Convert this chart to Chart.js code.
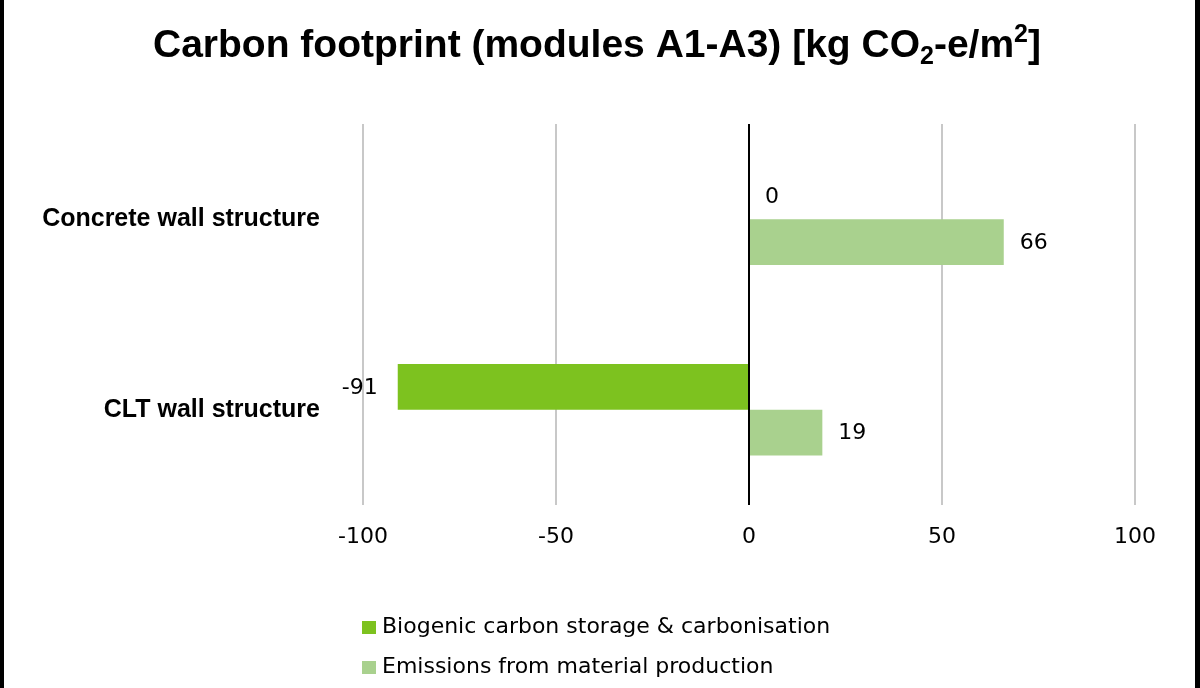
<!DOCTYPE html>
<html>
<head>
<meta charset="utf-8">
<script src="https://cdn.jsdelivr.net/npm/chart.js@4"></script>
<style>
  html, body { margin: 0; padding: 0; background: #fff; }
  #wrap { position: relative; width: 1200px; height: 688px; }
  .band { position: absolute; top: 0; width: 5px; height: 688px; background: #000; }
</style>
</head>
<body>
<div id="wrap">
  <canvas id="myChart" width="1200" height="688"></canvas>
  <div class="band" style="left:0;width:4px"></div>
  <div class="band" style="right:0"></div>
</div>
<script>
  // categories / series
  const categories = ['Concrete wall structure', 'CLT wall structure'];
  const seriesNames = ['Biogenic carbon storage & carbonisation', 'Emissions from material production'];
  const biogenic = [0, -91];
  const emissions = [66, 19];
  const xTicks = [-100, -50, 0, 50, 100];

  const colors = ['#7dc21f', '#a9d18e'];
  const FONT = '"Liberation Sans", Arial, Helvetica, sans-serif';
  const FONT_R = '"DejaVu Sans", "Liberation Sans", sans-serif';
  Chart.defaults.font.family = FONT;
  Chart.defaults.color = '#000';

  // タイトル (下付き・上付き文字あり)
  const titlePlugin = {
    id: 'titleSubSup',
    afterDraw(chart) {
      const ctx = chart.ctx;
      const parts = [
        { t: 'Carbon footprint (modules A1-A3) [kg CO', s: 0 },
        { t: '2', s: 1 },
        { t: '-e/m', s: 0 },
        { t: '2', s: -1 },
        { t: ']', s: 0 }
      ];
      const big = 'bold 39px ' + FONT;
      const small = 'bold 25px ' + FONT;
      ctx.save();
      let total = 0;
      parts.forEach(p => {
        ctx.font = p.s ? small : big;
        p.w = ctx.measureText(p.t).width;
        total += p.w;
      });
      let x = chart.width / 2 - total / 2 - 3;
      const y = 46;
      ctx.textBaseline = 'middle';
      ctx.textAlign = 'left';
      ctx.fillStyle = '#000';
      parts.forEach(p => {
        ctx.font = p.s ? small : big;
        const dy = p.s === 1 ? 11 : (p.s === -1 ? -11 : 0);
        ctx.fillText(p.t, x, y + dy);
        x += p.w;
      });
      ctx.restore();
    }
  };

  // データラベル
  const labelPlugin = {
    id: 'barValues',
    afterDatasetsDraw(chart) {
      const ctx = chart.ctx;
      ctx.save();
      ctx.font = '22px ' + FONT_R;
      ctx.fillStyle = '#000';
      ctx.textBaseline = 'middle';
      chart.data.datasets.forEach((ds, i) => {
        const meta = chart.getDatasetMeta(i);
        meta.data.forEach((bar, j) => {
          const v = ds.data[j];
          if (v < 0) {
            ctx.textAlign = 'right';
            ctx.fillText(String(v), bar.x - 20, bar.y + 1);
          } else {
            ctx.textAlign = 'left';
            ctx.fillText(String(v), bar.x + 16, bar.y + 1);
          }
        });
      });
      ctx.restore();
    }
  };

  // 凡例 (縦並び)
  const legendPlugin = {
    id: 'stackLegend',
    afterDraw(chart) {
      const ctx = chart.ctx;
      const area = chart.chartArea;
      ctx.save();
      ctx.font = '22px ' + FONT_R;
      ctx.textBaseline = 'middle';
      ctx.textAlign = 'left';
      chart.data.datasets.forEach((ds, i) => {
        const y = area.bottom + 122 + i * 40;
        const x = area.left - 1;
        ctx.fillStyle = ds.backgroundColor;
        ctx.fillRect(x, y - 6, 14, 13);
        ctx.fillStyle = '#000';
        ctx.fillText(ds.label, x + 20, y);
      });
      ctx.restore();
    }
  };

  const ctx = document.getElementById('myChart').getContext('2d');
  new Chart(ctx, {
    type: 'bar',
    data: {
      labels: categories,
      datasets: [
        { label: seriesNames[0], data: biogenic, backgroundColor: colors[0] },
        { label: seriesNames[1], data: emissions, backgroundColor: colors[1] }
      ]
    },
    options: {
      indexAxis: 'y',
      responsive: false,
      animation: false,
      categoryPercentage: 0.48,
      barPercentage: 1,
      layout: { padding: { top: 124, right: 65, bottom: 123, left: 0 } },
      scales: {
        x: {
          min: xTicks[0],
          max: xTicks[xTicks.length - 1],
          afterBuildTicks: (scale) => { scale.ticks = xTicks.map(v => ({ value: v })); },
          afterFit: (scale) => { scale.height = 60; },
          border: { display: false },
          grid: {
            drawTicks: false,
            lineWidth: 2,
            color: (c) => (c.tick && c.tick.value === 0 ? '#000' : '#c8c8c8')
          },
          ticks: { font: { size: 22, family: FONT_R }, color: '#000', padding: 19 }
        },
        y: {
          afterFit: (scale) => { scale.width = 363; },
          border: { display: false },
          grid: { display: false, drawTicks: false },
          ticks: { font: { size: 25, weight: 'bold' }, color: '#000', padding: 43 }
        }
      },
      plugins: {
        legend: { display: false },
        title: { display: false },
        tooltip: { enabled: false }
      }
    },
    plugins: [titlePlugin, labelPlugin, legendPlugin]
  });
</script>
</body>
</html>
